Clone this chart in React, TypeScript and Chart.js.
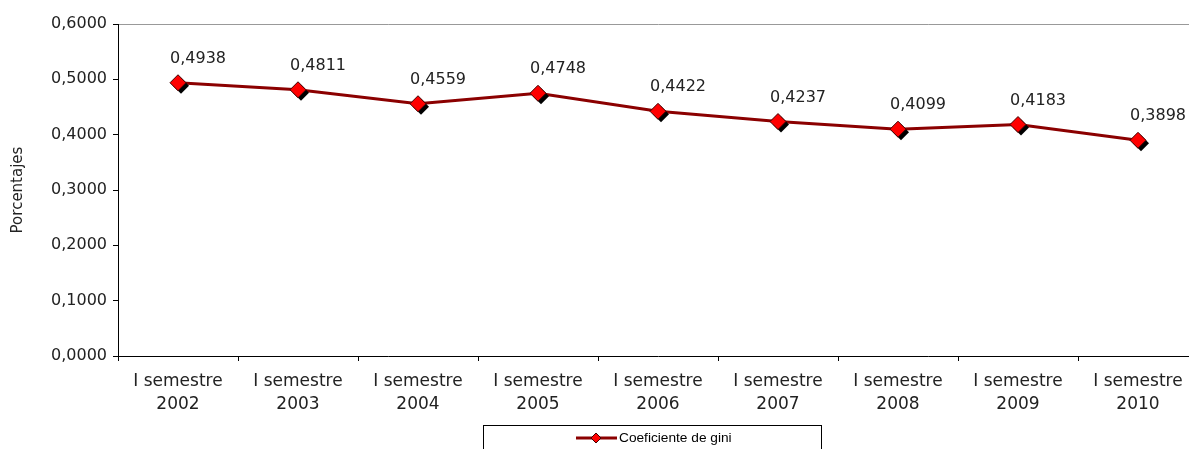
import React, { useEffect, useRef } from "react";
import { Chart, registerables } from "chart.js";

Chart.register(...registerables);

const categories: string[][] = [
  ["I semestre", "2002"],
  ["I semestre", "2003"],
  ["I semestre", "2004"],
  ["I semestre", "2005"],
  ["I semestre", "2006"],
  ["I semestre", "2007"],
  ["I semestre", "2008"],
  ["I semestre", "2009"],
  ["I semestre", "2010"],
];
const giniValues: number[] = [0.4938, 0.4811, 0.4559, 0.4748, 0.4422, 0.4237, 0.4099, 0.4183, 0.3898];
const seriesName = "Coeficiente de gini";
const yTitle = "Porcentajes";
const yMin = 0;
const yMax = 0.6;
const yStep = 0.1;

const fmt = (v: number) => v.toFixed(4).replace(".", ",");

const FONT = "'DejaVu Sans', Verdana, sans-serif";
const LINE_COLOR = "#8B0000";
const MARK_COLOR = "#FF0000";

function diamond(ctx: CanvasRenderingContext2D, x: number, y: number, r: number) {
  ctx.beginPath();
  ctx.moveTo(x, y - r);
  ctx.lineTo(x + r, y);
  ctx.lineTo(x, y + r);
  ctx.lineTo(x - r, y);
  ctx.closePath();
}

const markersPlugin = {
  id: "markersAndLabels",
  afterDatasetsDraw(chart: any) {
    const ctx: CanvasRenderingContext2D = chart.ctx;
    const meta = chart.getDatasetMeta(0);
    const data = chart.data.datasets[0].data as number[];
    ctx.save();
    meta.data.forEach((pt: any, i: number) => {
      const { x, y } = pt.getProps(["x", "y"], true);
      ctx.fillStyle = "#000";
      diamond(ctx, x + 3, y + 3, 8);
      ctx.fill();
      ctx.fillStyle = MARK_COLOR;
      ctx.strokeStyle = "#400000";
      ctx.lineWidth = 1;
      diamond(ctx, x, y, 8);
      ctx.fill();
      ctx.stroke();
      ctx.fillStyle = "#222";
      ctx.font = `16px ${FONT}`;
      ctx.textAlign = "center";
      ctx.textBaseline = "middle";
      ctx.fillText(fmt(data[i]), x + 20, y - 24);
    });
    ctx.restore();
  },
  afterDraw(chart: any) {
    const ctx: CanvasRenderingContext2D = chart.ctx;
    ctx.save();
    // legend box
    ctx.strokeStyle = "#000";
    ctx.lineWidth = 1;
    ctx.strokeRect(483.5, 425.5, 338, 40);
    const ly = 438;
    ctx.strokeStyle = LINE_COLOR;
    ctx.lineWidth = 3;
    ctx.beginPath();
    ctx.moveTo(576, ly);
    ctx.lineTo(617, ly);
    ctx.stroke();
    ctx.fillStyle = MARK_COLOR;
    ctx.strokeStyle = "#400000";
    ctx.lineWidth = 1;
    diamond(ctx, 596, ly, 5);
    ctx.fill();
    ctx.stroke();
    ctx.fillStyle = "#000";
    ctx.font = `13.7px 'Liberation Sans', Arial, sans-serif`;
    ctx.textAlign = "left";
    ctx.textBaseline = "middle";
    ctx.fillText(seriesName, 619, ly);
    ctx.restore();
  },
};

export default function App() {
  const ref = useRef<HTMLCanvasElement | null>(null);
  useEffect(() => {
    if (!ref.current) return;
    const chart = new Chart(ref.current, {
      type: "line",
      data: {
        labels: categories,
        datasets: [
          {
            label: seriesName,
            data: giniValues,
            borderColor: LINE_COLOR,
            borderWidth: 3,
            pointRadius: 0,
            pointHoverRadius: 0,
            tension: 0,
          },
        ],
      },
      options: {
        responsive: false,
        animation: false,
        devicePixelRatio: 1,
        events: [],
        layout: { padding: { top: 24, left: 0, right: 0, bottom: 0 } },
        plugins: {
          legend: { display: false },
          tooltip: { enabled: false },
          title: { display: false },
        },
        scales: {
          x: {
            type: "category",
            offset: true,
            grid: {
              offset: true,
              drawOnChartArea: false,
              tickLength: 5,
              tickColor: "#000",
            },
            border: { display: true, color: "#000", width: 1 },
            ticks: {
              color: "#222",
              font: { family: FONT, size: 17, lineHeight: 1.3 },
              padding: 10,
              maxRotation: 0,
              autoSkip: false,
            },
            afterFit(scale: any) {
              scale.height = 93;
            },
          },
          y: {
            min: yMin,
            max: yMax,
            grid: {
              color: (c: any) => (c.tick && Math.abs(c.tick.value - yMax) < 1e-9 ? "#999" : "rgba(0,0,0,0)"),
              tickColor: "#000",
              tickLength: 5,
            },
            border: { display: true, color: "#000", width: 1 },
            ticks: {
              stepSize: yStep,
              color: "#222",
              font: { family: FONT, size: 16 },
              padding: 6,
              callback: (v: any) => fmt(Number(v)),
            },
            title: {
              display: true,
              text: yTitle,
              color: "#222",
              font: { family: FONT, size: 15 },
              padding: { top: 9, bottom: 0 },
            },
            afterFit(scale: any) {
              scale.width = 118;
            },
          },
        },
      },
      plugins: [markersPlugin],
    } as any);
    return () => chart.destroy();
  }, []);

  return (
    <div style={{ position: "fixed", left: 0, top: 0, width: 1189, height: 449, overflow: "hidden", background: "#fff" }}>
      <canvas ref={ref} width={1198} height={449} style={{ width: 1198, height: 449, display: "block" }} />
    </div>
  );
}
